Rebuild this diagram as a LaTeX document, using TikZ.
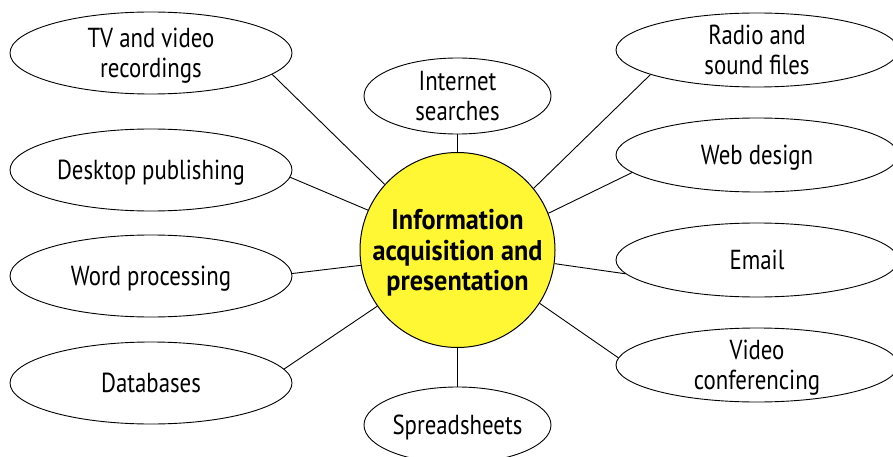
\documentclass[tikz,border=0pt]{standalone}
\usepackage{fontspec}
\setmainfont[FakeStretch=0.83]{PT Sans}
\newfontfamily\hubfont[FakeStretch=0.92]{PT Sans}
\usetikzlibrary{shapes.geometric}
\definecolor{hubyellow}{RGB}{255,247,51}
\begin{document}
\begin{tikzpicture}[x=1pt,y=-1pt,
  topic/.style={draw, ellipse, line width=0.9pt, inner sep=0pt, align=center,
    text depth=-1pt, font=\fontsize{27.5}{30}\selectfont},
  wide/.style={topic, minimum width=282pt, minimum height=82pt},
  wider/.style={topic, minimum width=282pt, minimum height=74pt},
  small/.style={topic, minimum width=187pt, minimum height=76pt},
  hub/.style={draw, circle, fill=hubyellow, line width=1pt, minimum size=195pt,
    inner sep=0pt, align=center, text depth=-2pt,
    font=\hubfont\bfseries\fontsize{28.5}{30.5}\selectfont},
  link/.style={line width=0.9pt}]
\useasboundingbox (0,0) rectangle (893,457);
\node[hub] (c) at (457.5,250) {Information\\acquisition and\\presentation};
\node[wide] (tv) at (151,53) {TV and video\\recordings};
\node[wide] (dtp) at (151,170) {Desktop publishing};
\node[wide] (wp) at (151,276) {Word processing};
\node[wide] (db) at (151,383) {Databases};
\node[small] (inet) at (457.5,96) {Internet\\searches};
\node[small] (ss) at (457.5,425) {Spreadsheets};
\node[wider] (radio) at (757,50) {Radio and\\sound files};
\node[wider] (web) at (757,155) {Web design};
\node[wider] (mail) at (757,260) {Email};
\node[wider] (vc) at (757,365) {Video\\conferencing};
\draw[link] (c.138) -- (tv.-10);
\draw[link] (c.156) -- (dtp.-3);
\draw[link] (c.189) -- (wp.1);
\draw[link] (c.215) -- (db.6);
\draw[link] (c.90) -- (inet.-90);
\draw[link] (c.270) -- (ss.90);
\draw[link] (c.39) -- (radio.193);
\draw[link] (c.22) -- (web.188);
\draw[link] (c.-8) -- (mail.186);
\draw[link] (c.-33) -- (vc.177);
\end{tikzpicture}
\end{document}
